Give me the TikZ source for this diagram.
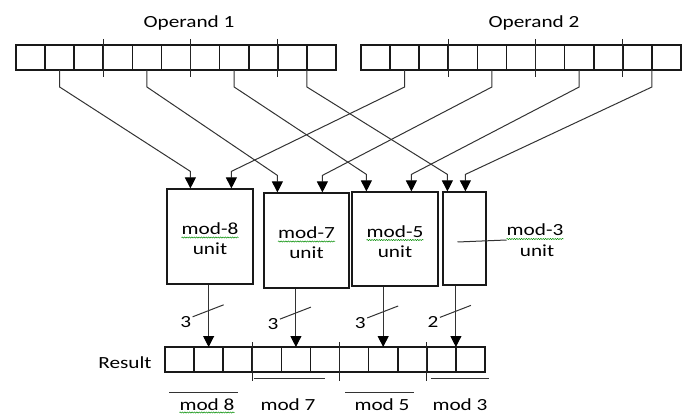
\documentclass[tikz,border=0pt]{standalone}
\usepackage{fontspec}
\setmainfont{Carlito}[FakeStretch=1.25]
\usetikzlibrary{arrows.meta,positioning,calc,decorations.pathmorphing}
\tikzset{
	cell/.style={
		rectangle,
		draw=black!90,
		line width=1.7pt,
		minimum width=29.09pt,
		minimum height=25pt,
		inner sep=0pt,
		outer sep=0pt,
	},
	unit/.style={
		rectangle,
		draw=black!90,
		line width=1.2pt,
		inner sep=0pt,
	},
	txt/.style={
		font=\fontsize{17}{20}\selectfont,
		text=black,
		inner sep=0pt,
	},
	wire/.style={
		draw=black!80,
		line width=1pt,
	},
	arr/.style={
		wire,
		-{Triangle[width=11pt,length=11pt,color=black]},
	},
	sep/.style={draw=black!85, line width=1.2pt},
	spell/.style={
		draw=green!55!black,
		line width=0.5pt,
		decorate,
		decoration={snake,amplitude=0.6pt,segment length=2.4pt},
	},
}

\begin{document}
\begin{tikzpicture}[x=1pt,y=-1pt]
	\useasboundingbox (0,0) rectangle (688,414);
	
	% registers
	\foreach \i in {1,...,11} {
		\node[cell] (o1c\i) at ({16+29.09*(\i-0.5)},57.5) {};
		\node[cell] (o2c\i) at ({361+29.09*(\i-0.5)},57.5) {};
		\node[cell] (rc\i) at ({165+29.09*(\i-0.5)},359.5) {};
	}
	\foreach \r in {o1c,o2c}
		\foreach \k in {3,6,9}
			\draw[sep] ($(\r\k.north east)+(0,-6)$) -- ($(\r\k.south east)+(0,7)$);
	\foreach \k in {3,6,9}
		\draw[sep] ($(rc\k.north east)+(0,-5)$) -- ($(rc\k.south east)+(0,9)$);
	
	\node[txt,anchor=base] (op1) at (189,27.5) {Operand 1};
	\node[txt,anchor=base] (op2) at (534,27.5) {Operand 2};
	\node[txt,anchor=base] (res) at (125,368) {Result};
	
	% residue units
	\node[unit,minimum width=86pt,minimum height=95pt] (m8) at (210,236.5) {};
	\node[unit,minimum width=85pt,minimum height=95pt] (m7) at (306.5,240.5) {};
	\node[unit,minimum width=86pt,minimum height=94pt] (m5) at (395,239) {};
	\node[unit,minimum width=43pt,minimum height=93pt] (m3) at (464.5,238.5) {};
	
	\foreach \u/\t in {m8/mod-8,m7/mod-7,m5/mod-5} {
		\node[txt,anchor=base] (\u l) at ($(\u)+(0,-2)$) {\t};
		\node[txt,anchor=base] (\u u) at ($(\u l.base)+(0,20)$) {unit};
	}
	\node[txt,anchor=base] (m3l) at (535,236) {mod-3};
	\node[txt,anchor=base] (m3u) at ($(m3l.base)+(2,20)$) {unit};
	\draw[wire] ($(m3)+(-7,3.5)$) -- ($(m3l.base west)+(0,4)$);
	
	\foreach \n in {m8l,m7l,m5l,m3l}
		\draw[spell] ($(\n.base west)+(0,3)$) -- ($(\n.base east)+(0,3)$);
	
	% inputs
	\coordinate (m8a) at ($(m8.north west)+(24,0)$);
	\coordinate (m8b) at ($(m8.north west)+(65,0)$);
	\coordinate (m7a) at ($(m7.north west)+(14,0)$);
	\coordinate (m7b) at ($(m7.north west)+(59,0)$);
	\coordinate (m5a) at ($(m5.north west)+(15,0)$);
	\coordinate (m5b) at ($(m5.north west)+(60,0)$);
	\coordinate (m3a) at ($(m3.north west)+(5,0)$);
	\coordinate (m3b) at ($(m3.north west)+(23,0)$);
	
	\foreach \s/\d in {o1c2.south/m8a, o2c2.south/m8b, o1c5.south/m7a, o2c5.south/m7b,
		o1c8.south/m5a, o2c8.south/m5b, o1c10.south east/m3a, o2c10.south east/m3b}
		\draw[arr] (\s) -- ++(0,17) -- ($(\d)+(0,-17)$) -- (\d);
	
	% outputs
	\foreach \u/\c/\bits in {m8/rc2.north/3, m7/rc5.north/3, m5/rc8.north/3, m3/rc10.north east/2} {
		\draw[arr] (\u.south -| \c) -- coordinate[pos=0.42] (w\u) (\c);
		\draw[wire] ($(w\u)+(-16,6)$) -- ($(w\u)+(15,-6)$);
		\node[txt] (n\u) at ($(w\u)+(-23,11)$) {\bits};
	}
	
	% result fields
	\draw[wire] ($(rc4.south west)+(2,6)$) -- ($(rc6.south east)+(-14.5,6)$);
	\draw[wire] ($(rc10.south west)+(4,6)$) -- ($(rc11.south east)+(4,6)$);
	\draw[wire] ($(rc1.south west)+(4,20)$) -- ($(rc3.south east)+(-14,20)$);
	\draw[wire] ($(rc7.south west)+(5.5,20)$) -- ($(rc9.south east)+(-13,20)$);
	
	\node[txt,anchor=base] (b8) at (207,410) {mod 8};
	\node[txt,anchor=base] (b7) at (288,410) {mod 7};
	\node[txt,anchor=base] (b5) at (382,410) {mod 5};
	\node[txt,anchor=base] (b3) at (460,410) {mod 3};
	\draw[spell] ($(b8.base west)+(0,2.5)$) -- ($(b8.base east)+(0,2.5)$);
\end{tikzpicture}
\end{document}
